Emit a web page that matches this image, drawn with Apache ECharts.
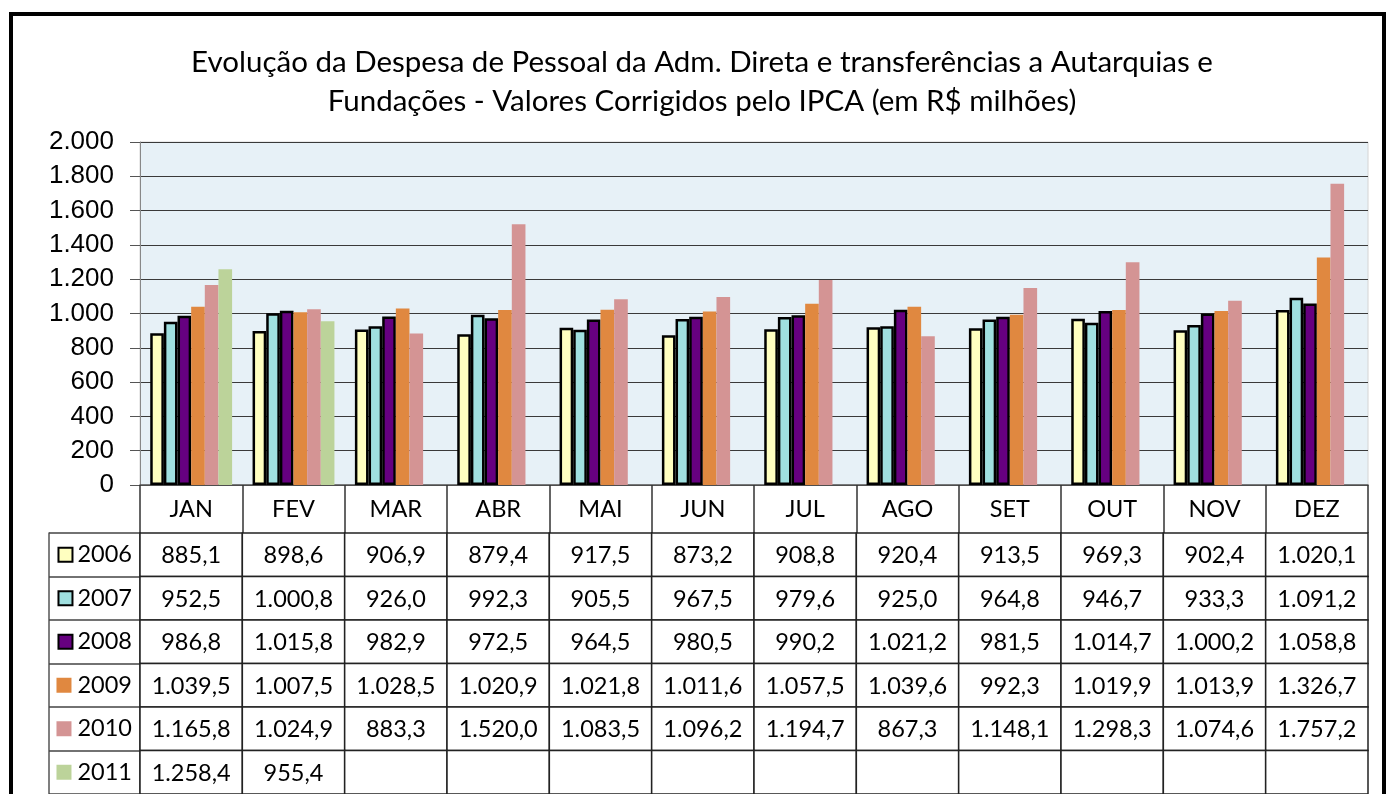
<!DOCTYPE html>
<html lang="pt">
<head>
    <meta charset="UTF-8">
    <title>Despesa de Pessoal</title>
    <script src="https://cdn.jsdelivr.net/npm/echarts@6.0.0/dist/echarts.min.js"></script>
    <style>
        body { margin: 0; background: #fff; }
        #chart { width: 1391px; height: 794px; }
        #frame {
            position: absolute; left: 9px; top: 12px; width: 1369px; height: 800px;
            border: 4px solid #000; pointer-events: none;
        }
    </style>
</head>
<body>
    <div id="chart"></div>
    <div id="frame"></div>
    <script>
        const months = ['JAN', 'FEV', 'MAR', 'ABR', 'MAI', 'JUN', 'JUL', 'AGO', 'SET', 'OUT', 'NOV', 'DEZ'];
        const years = ['2006', '2007', '2008', '2009', '2010', '2011'];
        const v2006 = [885.1, 898.6, 906.9, 879.4, 917.5, 873.2, 908.8, 920.4, 913.5, 969.3, 902.4, 1020.1];
        const v2007 = [952.5, 1000.8, 926.0, 992.3, 905.5, 967.5, 979.6, 925.0, 964.8, 946.7, 933.3, 1091.2];
        const v2008 = [986.8, 1015.8, 982.9, 972.5, 964.5, 980.5, 990.2, 1021.2, 981.5, 1014.7, 1000.2, 1058.8];
        const v2009 = [1039.5, 1007.5, 1028.5, 1020.9, 1021.8, 1011.6, 1057.5, 1039.6, 992.3, 1019.9, 1013.9, 1326.7];
        const v2010 = [1165.8, 1024.9, 883.3, 1520.0, 1083.5, 1096.2, 1194.7, 867.3, 1148.1, 1298.3, 1074.6, 1757.2];
        const v2011 = [1258.4, 955.4, null, null, null, null, null, null, null, null, null, null];
        const yTicks = [0, 200, 400, 600, 800, 1000, 1200, 1400, 1600, 1800, 2000];

        const allValues = [v2006, v2007, v2008, v2009, v2010, v2011];
        const colors = ['#ffffc0', '#a0e0e0', '#660080', '#e08840', '#d49494', '#bcd39a'];
        const bordered = [true, true, true, false, false, false];

        const tableFont = 'Lato, "Open Sans", sans-serif';
        const tableSize = 23.5;

        function thousands(s) {
            return s.replace(/\B(?=(\d{3})+(?!\d))/g, '.');
        }
        function fmt(v) {
            if (v == null) return '';
            const parts = v.toFixed(1).split('.');
            return thousands(parts[0]) + ',' + parts[1];
        }

        const chart = echarts.init(document.getElementById('chart'));

        const barSeries = years.map((y, i) => ({
            name: y,
            type: 'bar',
            xAxisIndex: 0,
            yAxisIndex: 0,
            data: allValues[i],
            barGap: 0,
            barCategoryGap: '20%',
            itemStyle: {
                color: colors[i],
                borderColor: '#000',
                borderWidth: bordered[i] ? 2.5 : 0
            },
            emphasis: { disabled: true }
        }));

        const cellData = [];
        years.forEach((y, i) => {
            months.forEach((m, j) => cellData.push([j, i]));
        });

        const rich = { s: { width: 6 }, y: { fontSize: tableSize, fontFamily: tableFont, color: '#000' } };
        years.forEach((y, i) => {
            rich['k' + i] = {
                width: bordered[i] ? 12 : 15,
                height: bordered[i] ? 12 : 15,
                backgroundColor: colors[i],
                borderColor: '#000',
                borderWidth: bordered[i] ? 2 : 0
            };
        });

        const option = {
            animation: false,
            title: {
                text: 'Evolução da Despesa de Pessoal da Adm. Direta e transferências a Autarquias e\nFundações - Valores Corrigidos pelo IPCA (em R$ milhões)',
                left: 702,
                top: 43,
                padding: 0,
                textAlign: 'center',
                textStyle: {
                    fontFamily: tableFont,
                    fontSize: 29.5,
                    fontWeight: 'normal',
                    lineHeight: 39,
                    color: '#000'
                }
            },
            grid: [
                { left: 140, top: 142, width: 1228, height: 343, show: true, backgroundColor: '#e7f1f7', borderColor: '#d4d4d4', borderWidth: 1 },
                { left: 140, top: 533, width: 1228, height: 268 }
            ],
            xAxis: [
                {
                    gridIndex: 0, type: 'category', data: months,
                    axisLine: { lineStyle: { color: '#555', width: 1.5 } },
                    axisTick: { show: true, interval: 0, length: 48, lineStyle: { color: '#333', width: 1.5 } },
                    axisLabel: { interval: 0, margin: 12, fontSize: tableSize, fontFamily: tableFont, color: '#000', lineHeight: 24 }
                },
                {
                    gridIndex: 1, type: 'category', data: months, show: false
                }
            ],
            yAxis: [
                {
                    gridIndex: 0, type: 'value', min: 0, max: 2000, interval: 200,
                    axisLine: { show: true, lineStyle: { color: '#888' } },
                    axisTick: { show: true, length: 10, lineStyle: { color: '#555' } },
                    splitLine: { lineStyle: { color: '#3a3a3a', width: 1 } },
                    axisLabel: {
                        margin: 26, fontSize: 26, fontFamily: '"Liberation Sans", Arial, sans-serif', color: '#000',
                        formatter: v => yTicks.includes(v) ? thousands(String(v)) : ''
                    }
                },
                {
                    gridIndex: 1, type: 'category', data: years, inverse: true,
                    axisLine: { show: true, lineStyle: { color: '#333', width: 1.5 } },
                    axisTick: { show: true, interval: 0, length: 91, lineStyle: { color: '#444', width: 1.5 } },
                    axisLabel: {
                        margin: 8,
                        formatter: (v, idx) => '{k' + idx + '|}{s|}{y|' + v + '}',
                        rich: rich
                    }
                },
                {
                    gridIndex: 1, type: 'category', data: years, inverse: true, position: 'left', offset: 91,
                    axisLine: { show: true, lineStyle: { color: '#555', width: 1.5 } },
                    axisTick: { show: false }, axisLabel: { show: false }
                }
            ],
            series: barSeries.concat([{
                type: 'custom',
                xAxisIndex: 1,
                yAxisIndex: 1,
                data: cellData,
                renderItem: function (params, api) {
                    const j = api.value(0), i = api.value(1);
                    const c = api.coord([j, i]);
                    const sz = api.size([1, 1]);
                    return {
                        type: 'group',
                        children: [
                            {
                                type: 'rect',
                                shape: { x: c[0] - sz[0] / 2, y: c[1] - sz[1] / 2, width: sz[0], height: sz[1] },
                                style: { fill: '#fff', stroke: '#222', lineWidth: 1.5 }
                            },
                            {
                                type: 'text',
                                style: {
                                    text: fmt(allValues[i][j]),
                                    x: c[0], y: c[1] + 1,
                                    align: 'center', verticalAlign: 'middle',
                                    fontSize: tableSize, fontFamily: tableFont, fill: '#000'
                                }
                            }
                        ]
                    };
                }
            }])
        };

        chart.setOption(option);
    </script>
</body>
</html>
